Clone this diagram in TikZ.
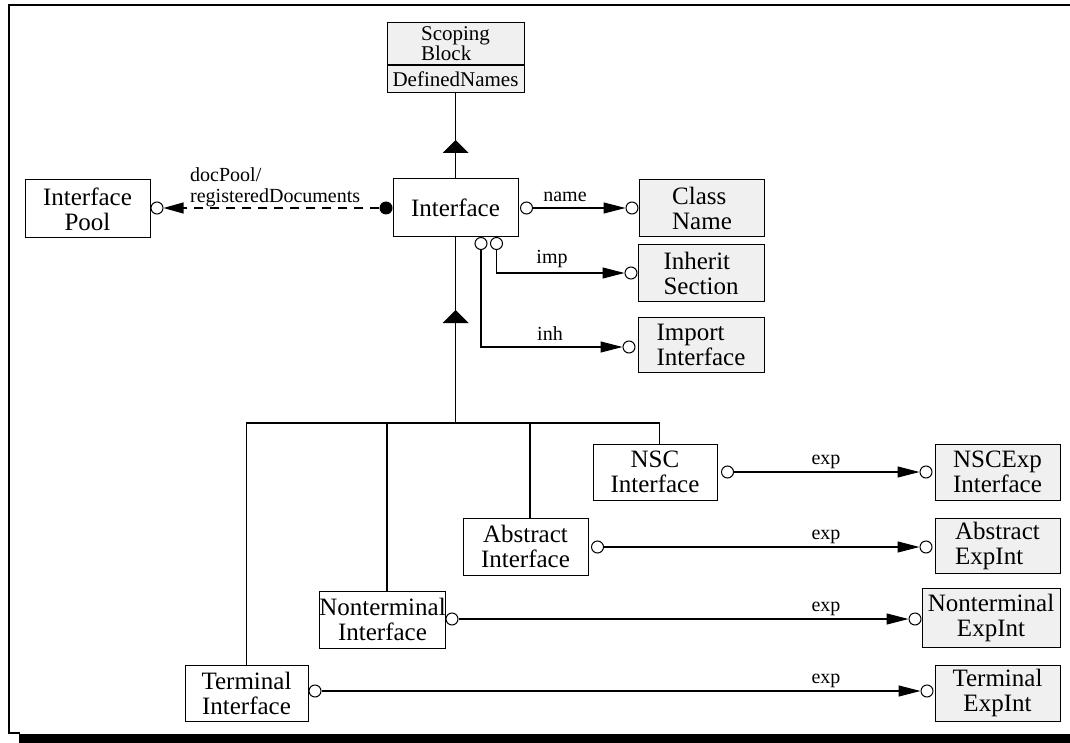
\documentclass[tikz,border=0pt]{standalone}
\usepackage{fontspec}
\setmainfont{Liberation Serif}
\usetikzlibrary{arrows.meta}
\definecolor{boxgray}{gray}{0.94}
\newcommand{\boxfont}{\fontsize{25}{25}\selectfont}
\newcommand{\smallboxfont}{\fontsize{21}{20}\selectfont}
\newcommand{\lblfont}{\fontsize{20}{21}\selectfont}
\tikzset{
  box/.style={draw=black, line width=1pt, fill=white, inner sep=0pt,
    font=\boxfont, align=center},
  gbox/.style={box, fill=boxgray},
  lbl/.style={font=\lblfont, inner sep=0pt},
  ring/.style={circle, draw=black, line width=1pt, fill=white,
    minimum size=12pt, inner sep=0pt},
  dot/.style={circle, fill=black, minimum size=13pt, inner sep=0pt},
  link/.style={line width=1.1pt},
  conn/.style={link, -{Triangle[length=22pt,width=11pt]}},
  inhtri/.style={fill=black},
}
\begin{document}
\begin{tikzpicture}[x=1pt,y=-1pt]
\useasboundingbox (0,0) rectangle (1070,743);

% page frame with its shadow bar
\draw[line width=2pt] (1070,5.5) -- (9,5.5) -- (9,733) -- (20,733);
\fill (19,734) rectangle (1070,743);

% classes
\node[gbox, minimum width=137pt, minimum height=42pt, font=\smallboxfont, align=left]
  (scoping) at (455.5,44) {Scoping\\Block};
\node[gbox, minimum width=137pt, minimum height=27pt, font=\smallboxfont, anchor=north]
  (defnames) at (scoping.south) {DefinedNames};

\node[box, minimum width=125pt, minimum height=58pt] (pool) at (87.5,209) {Interface\\Pool};
\node[box, minimum width=125pt, minimum height=58pt] (iface) at (455.5,208) {Interface};

\node[gbox, minimum width=125pt, minimum height=57pt, align=left] (classname) at (702,208) {Class\\Name};
\node[gbox, minimum width=126pt, minimum height=57pt, align=left] (inherit) at (701,273) {Inherit\\Section};
\node[gbox, minimum width=126pt, minimum height=55pt, align=left] (import) at (701,345) {Import\\Interface};

\node[box, minimum width=124pt, minimum height=56pt] (nsc) at (655,472) {NSC\\Interface};
\node[box, minimum width=125pt, minimum height=57pt] (abstract) at (525.5,546.5) {Abstract\\Interface};
\node[box, minimum width=125pt, minimum height=57pt] (nonterm) at (382.5,619.5) {Nonterminal\\Interface};
\node[box, minimum width=123pt, minimum height=56pt] (term) at (246.5,693) {Terminal\\Interface};

\node[gbox, minimum width=125pt, minimum height=56pt] (nscexp) at (997.5,472) {NSCExp\\Interface};
\node[gbox, minimum width=125pt, minimum height=55pt, align=left] (absexp) at (997.5,546) {Abstract\\ExpInt};
\node[gbox, minimum width=138pt, minimum height=59pt] (ntexp) at (991,618) {Nonterminal\\ExpInt};
\node[gbox, minimum width=125pt, minimum height=56pt] (termexp) at (997.5,693) {Terminal\\ExpInt};

% inheritance: Interface -> ScopingBlock
\draw[link] (iface.north) -- (defnames.south);
\coordinate (tri1) at (455.5,153);
\fill[inhtri] (tri1) ++(-13,0) -- ++(26,0) -- ++(-13,-13) -- cycle;

% inheritance tree: subclasses -> Interface
\coordinate (bus) at (455.5,423);
\draw[link] (iface.south) -- (bus);
\draw[link] (term.north) -- (term.north |- bus)
  -- ([xshift=4.5pt]nsc.north |- bus) -- ([xshift=4.5pt]nsc.north);
\draw[link] ([xshift=4.5pt]nonterm.north) -- ([xshift=4.5pt]nonterm.north |- bus);
\draw[link] ([xshift=4.5pt]abstract.north) -- ([xshift=4.5pt]abstract.north |- bus);
\coordinate (tri2) at (455.5,323);
\fill[inhtri] (tri2) ++(-13,0) -- ++(26,0) -- ++(-13,-13) -- cycle;

% docPool / registeredDocuments
\node[ring] (poolring) at (157,208) {};
\node[dot] (pooldot) at (386,208) {};
\draw[link, dash pattern=on 9pt off 7pt, -{Triangle[length=20pt,width=11pt]}]
  (pooldot) -- (poolring);
\node[lbl, align=left, anchor=south west] (poollbl) at (190,207) {docPool/\\registeredDocuments};

% name
\node[ring] (namesrc) at (526.5,208) {};
\node[ring] (namedst) at (632,208) {};
\draw[conn] (namesrc) -- (namedst);
\node[lbl, anchor=base] (namelbl) at (565,202) {name};

% imp
\node[ring] (impsrc) at (496.5,243.5) {};
\node[ring] (impdst) at (631,273) {};
\draw[conn] (impsrc) |- (impdst);
\node[lbl, anchor=base] (implbl) at (552,263) {imp};

% inh
\node[ring] (inhsrc) at (481,243.5) {};
\node[ring] (inhdst) at (629,347) {};
\draw[conn] (inhsrc) |- (inhdst);
\node[lbl, anchor=base] (inhlbl) at (550,340) {inh};

% exp links
\node[ring] (nscsrc) at (727.5,472) {};
\node[ring] (nscdst) at (926,472) {};
\draw[conn] (nscsrc) -- (nscdst);
\node[lbl, anchor=base] (nsclbl) at (826,464) {exp};

\node[ring] (abssrc) at (597.5,547) {};
\node[ring] (absdst) at (926,547) {};
\draw[conn] (abssrc) -- (absdst);
\node[lbl, anchor=base] (abslbl) at (826,539) {exp};

\node[ring] (ntsrc) at (452,619) {};
\node[ring] (ntdst) at (915,619) {};
\draw[conn] (ntsrc) -- (ntdst);
\node[lbl, anchor=base] (ntlbl) at (826,611) {exp};

\node[ring] (termsrc) at (315,691) {};
\node[ring] (termdst) at (927,691) {};
\draw[conn] (termsrc) -- (termdst);
\node[lbl, anchor=base] (termlbl) at (826,683) {exp};
\end{tikzpicture}
\end{document}
